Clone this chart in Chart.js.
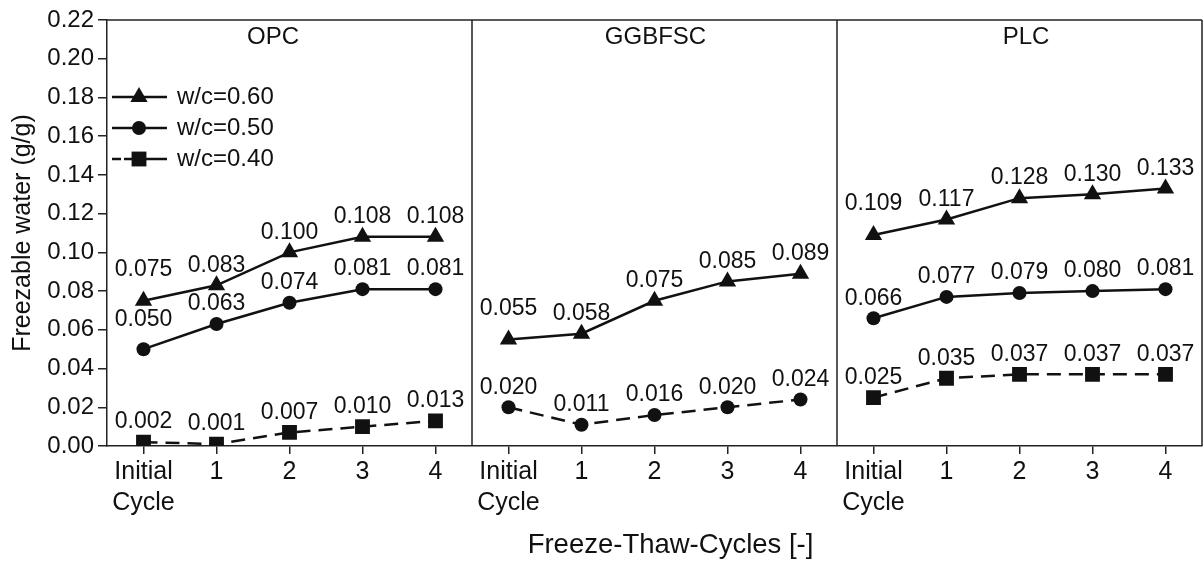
<!DOCTYPE html>
<html>
<head>
<meta charset="utf-8">
<script src="https://cdn.jsdelivr.net/npm/chart.js@4.4.1/dist/chart.umd.min.js"></script>
<style>
html,body{margin:0;padding:0;background:#fff;}
#wrap{width:1204px;height:564px;position:relative;}
</style>
</head>
<body>
<div id="wrap"><canvas id="c" width="1204" height="564"></canvas></div>
<script>
// ---- data ----
const panels = ['OPC', 'GGBFSC', 'PLC'];
const categories = [['Initial', 'Cycle'], '1', '2', '3', '4'];
const seriesNames = ['w/c=0.60', 'w/c=0.50', 'w/c=0.40'];
const opc_wc060 = [0.075, 0.083, 0.100, 0.108, 0.108];
const opc_wc050 = [0.050, 0.063, 0.074, 0.081, 0.081];
const opc_wc040 = [0.002, 0.001, 0.007, 0.010, 0.013];
const ggbfsc_wc060 = [0.055, 0.058, 0.075, 0.085, 0.089];
const ggbfsc_wc040 = [0.020, 0.011, 0.016, 0.020, 0.024];
const plc_wc060 = [0.109, 0.117, 0.128, 0.130, 0.133];
const plc_wc050 = [0.066, 0.077, 0.079, 0.080, 0.081];
const plc_wc040 = [0.025, 0.035, 0.037, 0.037, 0.037];
const yMin = 0, yMax = 0.22, yStep = 0.02;
const xTitle = 'Freeze-Thaw-Cycles [-]';
const yTitle = 'Freezable water (g/g)';

// ---- styles ----
const INK = '#111111';
const FONT = "'Liberation Sans', Arial, Helvetica, sans-serif";
const styles = {
  tri:  {pointStyle: 'triangle', pointRadius: 10, borderDash: []},
  circ: {pointStyle: 'circle', pointRadius: 7, borderDash: []},
  sq:   {pointStyle: 'rect', pointRadius: 10.5, borderDash: [14, 8]},
  circDash: {pointStyle: 'circle', pointRadius: 7, borderDash: [14, 8]}
};
const panelTitleShift = [-16.5, 1, 6.5];

const labels = [];
panels.forEach(() => categories.forEach(c => labels.push(c)));

function padPanel(values, panelIndex) {
  const out = new Array(panels.length * categories.length).fill(null);
  values.forEach((v, i) => { out[panelIndex * categories.length + i] = v; });
  return out;
}

const seriesDefs = [
  {panel: 0, name: seriesNames[0], values: opc_wc060, st: 'tri'},
  {panel: 0, name: seriesNames[1], values: opc_wc050, st: 'circ'},
  {panel: 0, name: seriesNames[2], values: opc_wc040, st: 'sq'},
  {panel: 1, name: seriesNames[0], values: ggbfsc_wc060, st: 'tri'},
  {panel: 1, name: seriesNames[2], values: ggbfsc_wc040, st: 'circDash'},
  {panel: 2, name: seriesNames[0], values: plc_wc060, st: 'tri'},
  {panel: 2, name: seriesNames[1], values: plc_wc050, st: 'circ'},
  {panel: 2, name: seriesNames[2], values: plc_wc040, st: 'sq'}
];

const datasets = seriesDefs.map(d => {
  const s = styles[d.st];
  return {
    label: panels[d.panel] + ' ' + d.name,
    data: padPanel(d.values, d.panel),
    borderColor: INK,
    backgroundColor: INK,
    borderWidth: 2.5,
    borderDash: s.borderDash,
    pointStyle: s.pointStyle,
    pointRadius: s.pointRadius,
    pointHoverRadius: s.pointRadius,
    pointBorderWidth: 0,
    pointBackgroundColor: INK,
    spanGaps: false,
    tension: 0,
    _st: d.st
  };
});

// label lift (px above the point); the first label of the top series sits higher
function labelLift(ds, idx, firstInPanel) {
  if (firstInPanel && ds._st === 'tri') return 31;
  if (firstInPanel && ds.label === 'OPC w/c=0.50') return 30;
  return 20;
}

const decorPlugin = {
  id: 'decor',
  afterDatasetsDraw(chart) {
    const ctx = chart.ctx;
    const ca = chart.chartArea;
    const xs = chart.scales.x;
    ctx.save();
    // frame: top, right, dividers
    ctx.strokeStyle = '#222';
    ctx.lineWidth = 1.5;
    ctx.beginPath();
    ctx.moveTo(ca.left, ca.top); ctx.lineTo(ca.right, ca.top);
    ctx.moveTo(ca.right, ca.top); ctx.lineTo(ca.right, ca.bottom);
    for (let p = 1; p < panels.length; p++) {
      const a = xs.getPixelForValue(p * categories.length - 1);
      const b = xs.getPixelForValue(p * categories.length);
      const xm = Math.round((a + b) / 2);
      ctx.moveTo(xm, ca.top); ctx.lineTo(xm, ca.bottom);
    }
    ctx.stroke();

    // panel titles
    ctx.fillStyle = INK;
    ctx.font = '24px ' + FONT;
    ctx.textAlign = 'center';
    ctx.textBaseline = 'middle';
    panels.forEach((name, p) => {
      const a = xs.getPixelForValue(p * categories.length);
      const b = xs.getPixelForValue(p * categories.length + categories.length - 1);
      ctx.fillText(name, (a + b) / 2 + panelTitleShift[p], ca.top + 17);
    });

    // value labels
    ctx.font = '23px ' + FONT;
    chart.data.datasets.forEach((ds, di) => {
      const meta = chart.getDatasetMeta(di);
      let first = true;
      ds.data.forEach((v, i) => {
        if (v === null) return;
        const el = meta.data[i];
        const lift = labelLift(ds, i, first);
        first = false;
        ctx.fillText(v.toFixed(3), el.x, el.y - lift);
      });
    });

    // x axis title
    ctx.font = '27.5px ' + FONT;
    ctx.fillText(xTitle, (ca.left + ca.right) / 2 + 16, 545);

    // legend
    const legendItems = [
      {text: seriesNames[0], st: 'tri'},
      {text: seriesNames[1], st: 'circ'},
      {text: seriesNames[2], st: 'sq'}
    ];
    const lx0 = ca.left + 5, lx1 = ca.left + 60, mx = ca.left + 32, tx = ca.left + 70;
    legendItems.forEach((it, k) => {
      const y = ca.top + 77 + k * 31;
      const s = styles[it.st];
      ctx.strokeStyle = INK;
      ctx.lineWidth = 2.5;
      ctx.setLineDash(it.st === 'sq' ? [9, 3, 100, 0] : []);
      ctx.beginPath(); ctx.moveTo(lx0, y); ctx.lineTo(lx1, y); ctx.stroke();
      ctx.setLineDash([]);
      ctx.fillStyle = INK;
      Chart.helpers.drawPoint(ctx, {pointStyle: s.pointStyle, radius: s.pointRadius, borderWidth: 0}, mx, y);
      ctx.fillStyle = INK;
      ctx.font = '24px ' + FONT;
      ctx.textAlign = 'left';
      ctx.textBaseline = 'middle';
      ctx.fillText(it.text, tx, y);
    });
    ctx.restore();
  }
};

new Chart(document.getElementById('c'), {
  type: 'line',
  data: {labels, datasets},
  options: {
    responsive: false,
    animation: false,
    devicePixelRatio: 1,
    layout: {autoPadding: false, padding: {top: 20, right: 2, left: 0, bottom: 0}},
    plugins: {legend: {display: false}, tooltip: {enabled: false}},
    scales: {
      x: {
        type: 'category',
        offset: true,
        afterFit(scale) { scale.height = 118; },
        grid: {display: true, drawOnChartArea: false, drawTicks: true, tickLength: 8, color: '#222', lineWidth: 1.5, offset: false},
        border: {display: true, color: '#222', width: 1.5},
        ticks: {color: INK, font: {family: FONT, size: 25, lineHeight: 1.25}, padding: 2, maxRotation: 0, autoSkip: false},
        title: {display: false}
      },
      y: {
        min: yMin, max: yMax,
        afterFit(scale) { scale.width = 107; },
        grid: {display: true, drawOnChartArea: false, drawTicks: true, tickLength: 9, color: '#222', lineWidth: 1.5},
        border: {display: true, color: '#222', width: 1.5},
        ticks: {stepSize: yStep, color: INK, font: {family: FONT, size: 24}, padding: 4,
                callback: v => Number(v).toFixed(2)},
        title: {display: true, text: yTitle, color: INK, font: {family: FONT, size: 25}, padding: {top: 8, bottom: 0}}
      }
    }
  },
  plugins: [decorPlugin]
});
</script>
</body>
</html>
